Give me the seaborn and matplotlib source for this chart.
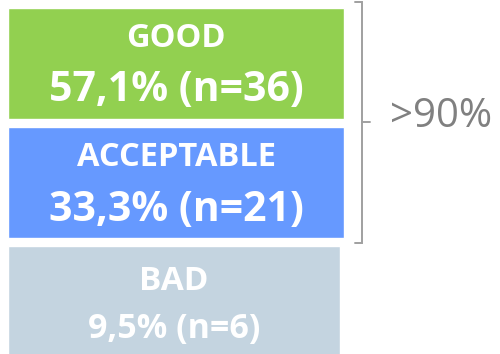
import matplotlib
matplotlib.use("Agg")
import matplotlib.pyplot as plt
import seaborn as sns
import pandas as pd

# Survey outcome categories
categories = ["GOOD", "ACCEPTABLE", "BAD"]
percentages = ["57,1%", "33,3%", "9,5%"]
counts = [36, 21, 6]
colors = ["#92D050", "#6699FF", "#C4D4E0"]
bracket_label = ">90%"

sns.set_theme(style="white")
plt.rcParams["font.family"] = ["Open Sans", "DejaVu Sans"]

df = pd.DataFrame({"category": categories, "box": [1.0, 1.0, 0.988]})

fig = plt.figure(figsize=(5.0, 3.54), dpi=100)
ax = fig.add_axes([0, 0, 1, 1])

sns.barplot(data=df, x="box", y="category", hue="category", palette=colors,
            orient="h", width=0.93, legend=False, ax=ax, saturation=1)

ax.set_xlim(-0.0238, 1.464)
ax.set_ylim(2.437, -0.53)
ax.axis("off")

# Category name and share inside each box
label_off = [-0.14, -0.135, -0.10]
value_off = [0.32, 0.325, 0.30]
label_size = [23.5, 23.5, 24]
value_size = [29.5, 29.5, 24.5]
for i, (cat, pct, n) in enumerate(zip(categories, percentages, counts)):
    cx = df["box"][i] / 2
    ax.text(cx, i + label_off[i], cat, ha="center", va="baseline",
            color="white", fontsize=label_size[i], fontweight="bold")
    ax.text(cx, i + value_off[i], f"{pct} (n={n})", ha="center", va="baseline",
            color="white", fontsize=value_size[i], fontweight="bold")

# Bracket grouping GOOD and ACCEPTABLE
bx0, bx1, btip = 1.033, 1.054, 1.077
ytop, ybot, ymid = -0.513, 1.504, 0.49
ax.plot([bx0, bx1, bx1, bx0], [ytop, ytop, ybot, ybot],
        color="#A0A0A0", lw=1.4, solid_joinstyle="miter", clip_on=False)
ax.plot([bx1, btip], [ymid, ymid], color="#A0A0A0", lw=1.4)
ax.text(1.137, 0.538, bracket_label, ha="left", va="baseline",
        color="#808080", fontsize=29)

fig.savefig("out.png", dpi=100)
